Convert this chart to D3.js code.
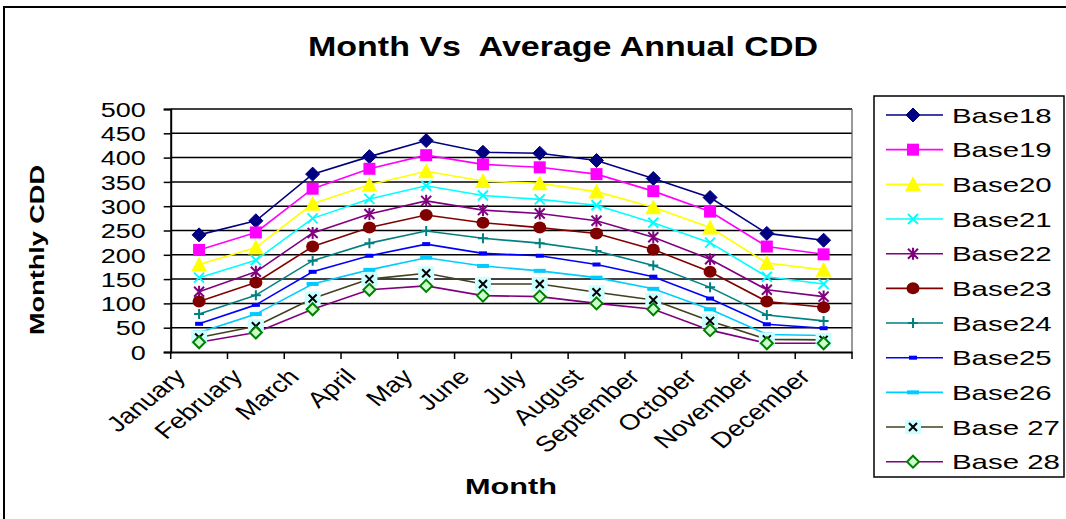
<!DOCTYPE html>
<html><head><meta charset="utf-8">
<script src="https://cdn.jsdelivr.net/npm/d3@7"></script>
<style>
html,body{margin:0;padding:0;background:#fff;}
svg{display:block;font-family:"Liberation Sans",Arial,sans-serif;}
</style></head>
<body>
<svg id="chart" width="1066" height="519"></svg>
<script>
const months = ["January","February","March","April","May","June","July","August","September","October","November","December"];
const yTicks = [0,50,100,150,200,250,300,350,400,450,500];
const seriesNames = ["Base18","Base19","Base20","Base21","Base22","Base23","Base24","Base25","Base26","Base 27","Base 28"];
const base18 = [241,270,366,402,435,411,409,394,357,318,244,230];
const base19 = [210,246,336,377,405,386,380,366,331,289,217,201];
const base20 = [180,215,305,344,372,352,347,330,298,256,183,169];
const base21 = [153,189,275,315,342,322,314,302,266,225,155,140];
const base22 = [124,165,245,284,311,292,285,270,236,191,128,114];
const base23 = [104,143,217,256,282,266,256,244,211,165,104,92];
const base24 = [78,117,188,224,249,234,224,208,178,133,76,64];
const base25 = [58,97,165,198,222,203,198,180,155,110,57,49];
const base26 = [40,78,140,169,194,177,167,153,130,88,36,34];
const base27 = [30,53,110,150,162,140,140,123,107,64,26,25];
const base28 = [20,40,88,128,136,116,114,100,88,45,18,18];
const allSeries = [base18,base19,base20,base21,base22,base23,base24,base25,base26,base27,base28];

const styles = [
  {line:"#000080", shape:"diamond", fill:"#000080", stroke:"#000080", size:14},
  {line:"#FF00FF", shape:"square", fill:"#FF00FF", stroke:"#FF00FF", size:12},
  {line:"#FFFF00", shape:"triangle", fill:"#FFFF00", stroke:"#FFFF00", size:14},
  {line:"#00FFFF", shape:"x", fill:"none", stroke:"#00FFFF", size:10},
  {line:"#800080", shape:"star", fill:"none", stroke:"#800080", size:10},
  {line:"#800000", shape:"circle", fill:"#800000", stroke:"#800000", size:12},
  {line:"#008080", shape:"plus", fill:"none", stroke:"#008080", size:10},
  {line:"#0000FF", shape:"dash", fill:"#0000FF", stroke:"#0000FF", size:8},
  {line:"#00CCFF", shape:"dash", fill:"#00CCFF", stroke:"#00CCFF", size:12},
  {line:"#404020", shape:"boxx", fill:"#CCFFFF", stroke:"#000000", size:12},
  {line:"#800080", shape:"odiamond", fill:"#CCFFCC", stroke:"#008000", size:12}
];

const svg = d3.select("#chart");

// outer frame
svg.append("rect").attr("x",4).attr("y",7).attr("width",1080).attr("height",530)
  .attr("fill","none").attr("stroke","#000").attr("stroke-width",2);

const plot = {left:170.7, right:852, top:109, bottom:352};
const x = d3.scaleBand().domain(months).range([plot.left, plot.right]).padding(0);
const y = d3.scaleLinear().domain([0,500]).range([plot.bottom, plot.top]);

function stretchText(sel, factor){
  sel.each(function(){
    const w = this.getComputedTextLength();
    d3.select(this).attr("textLength", w*factor).attr("lengthAdjust","spacingAndGlyphs");
  });
}

// gridlines
svg.append("g").selectAll("line").data(yTicks.filter(d=>d>0)).join("line")
  .attr("x1",plot.left).attr("x2",plot.right)
  .attr("y1",d=>y(d)).attr("y2",d=>y(d))
  .attr("stroke","#000").attr("stroke-width",1.5);
svg.append("line").attr("x1",plot.right).attr("x2",plot.right).attr("y1",plot.top).attr("y2",plot.bottom)
  .attr("stroke","#555").attr("stroke-width",1.2);

// y axis
const yAxis = svg.append("g").attr("transform",`translate(${plot.left},0)`)
  .call(d3.axisLeft(y).tickValues(yTicks).tickSize(7).tickPadding(18));
yAxis.select(".domain").attr("stroke","#000").attr("stroke-width",2);
yAxis.selectAll(".tick line").attr("stroke","#000").attr("stroke-width",1.5);
yAxis.selectAll(".tick text").attr("font-size",20).attr("fill","#000")
  .attr("font-family","Liberation Sans, Arial, sans-serif").attr("dy","0.36em");
stretchText(yAxis.selectAll(".tick text"), 1.35);
yAxis.selectAll(".tick text").attr("x",-25);

// x axis
const xAxis = svg.append("g").attr("transform",`translate(0,${plot.bottom})`)
  .call(d3.axisBottom(x).tickSize(0).tickFormat(""));
xAxis.select(".domain").attr("stroke","#000").attr("stroke-width",2);
const bounds = months.map(m=>x(m)).concat([plot.right]);
svg.append("g").selectAll("line").data(bounds).join("line")
  .attr("x1",d=>d).attr("x2",d=>d).attr("y1",plot.bottom).attr("y2",plot.bottom+7)
  .attr("stroke","#000").attr("stroke-width",1.5);
svg.append("g").selectAll("text").data(months).join("text")
  .attr("transform",d=>`translate(${x(d)+x.bandwidth()/2-12},${plot.bottom+26}) scale(1.25,1) rotate(-45)`)
  .attr("text-anchor","end").attr("font-size",22).attr("fill","#000").text(d=>d);

// series lines
const lineGen = d3.line().x((d,i)=>x(months[i])+x.bandwidth()/2).y(d=>y(d));
const gSeries = svg.append("g");
allSeries.forEach((vals,si)=>{
  gSeries.append("path").datum(vals).attr("d",lineGen)
    .attr("fill","none").attr("stroke",styles[si].line).attr("stroke-width",1.6);
});

function drawMarker(g, cx, cy, st){
  const s = st.size, h = s/2;
  switch(st.shape){
    case "diamond":
      g.append("path").attr("d",`M${cx},${cy-h}L${cx+h},${cy}L${cx},${cy+h}L${cx-h},${cy}Z`).attr("fill",st.fill).attr("stroke",st.stroke);break;
    case "odiamond":
      g.append("path").attr("d",`M${cx},${cy-h}L${cx+h},${cy}L${cx},${cy+h}L${cx-h},${cy}Z`).attr("fill",st.fill).attr("stroke",st.stroke).attr("stroke-width",2);break;
    case "square":
      g.append("rect").attr("x",cx-h).attr("y",cy-h).attr("width",s).attr("height",s).attr("fill",st.fill);break;
    case "triangle":
      g.append("path").attr("d",`M${cx},${cy-h-1}L${cx+h+1},${cy+h}L${cx-h-1},${cy+h}Z`).attr("fill",st.fill);break;
    case "circle":
      g.append("ellipse").attr("cx",cx).attr("cy",cy).attr("rx",h+0.5).attr("ry",h).attr("fill",st.fill);break;
    case "x":
      g.append("path").attr("d",`M${cx-h},${cy-h}L${cx+h},${cy+h}M${cx-h},${cy+h}L${cx+h},${cy-h}`).attr("stroke",st.stroke).attr("stroke-width",2);break;
    case "star":
      g.append("path").attr("d",`M${cx-h},${cy-h}L${cx+h},${cy+h}M${cx-h},${cy+h}L${cx+h},${cy-h}M${cx},${cy-h-1}L${cx},${cy+h+1}`).attr("stroke",st.stroke).attr("stroke-width",2);break;
    case "plus":
      g.append("path").attr("d",`M${cx-h},${cy}L${cx+h},${cy}M${cx},${cy-h}L${cx},${cy+h}`).attr("stroke",st.stroke).attr("stroke-width",2);break;
    case "dash":
      g.append("rect").attr("x",cx-h).attr("y",cy-2).attr("width",s).attr("height",4).attr("fill",st.fill);break;
    case "boxx":
      g.append("rect").attr("x",cx-8).attr("y",cy-7).attr("width",16).attr("height",14).attr("fill",st.fill);
      g.append("path").attr("d",`M${cx-4},${cy-4}L${cx+4},${cy+4}M${cx-4},${cy+4}L${cx+4},${cy-4}`).attr("stroke","#000").attr("stroke-width",2);break;
  }
}
allSeries.forEach((vals,si)=>{
  const g = gSeries.append("g");
  vals.forEach((v,i)=>drawMarker(g, x(months[i])+x.bandwidth()/2, y(v), styles[si]));
});

// title
svg.append("text").attr("x",563).attr("y",56).attr("text-anchor","middle")
  .attr("font-size",27).attr("font-weight","bold").attr("fill","#000")
  .style("white-space","pre").text("Month Vs  Average Annual CDD")
  .attr("textLength",510).attr("lengthAdjust","spacingAndGlyphs");

// axis titles
svg.append("text").attr("x",511).attr("y",494).attr("text-anchor","middle")
  .attr("font-size",22).attr("font-weight","bold").attr("fill","#000").text("Month")
  .attr("textLength",92).attr("lengthAdjust","spacingAndGlyphs");
svg.append("text").attr("transform","translate(44,250) rotate(-90)").attr("text-anchor","middle")
  .attr("font-size",21).attr("font-weight","bold").attr("fill","#000").text("Monthly CDD")
  .attr("textLength",170).attr("lengthAdjust","spacingAndGlyphs");

// legend
svg.append("rect").attr("x",874).attr("y",96).attr("width",190).attr("height",381)
  .attr("fill","#fff").attr("stroke","#000").attr("stroke-width",1.5);
const legY = d3.scalePoint().domain(seriesNames).range([115,461.7]);
seriesNames.forEach((nm,si)=>{
  const cy = legY(nm);
  svg.append("line").attr("x1",886).attr("x2",943).attr("y1",cy).attr("y2",cy)
    .attr("stroke",styles[si].line).attr("stroke-width",1.6);
  drawMarker(svg.append("g"), 913, cy, styles[si]);
  const t = svg.append("text").attr("x",952).attr("y",cy).attr("dy","0.36em")
    .attr("font-size",21).attr("fill","#000").text(nm);
  stretchText(t, 1.4);
});
</script>
</body></html>
